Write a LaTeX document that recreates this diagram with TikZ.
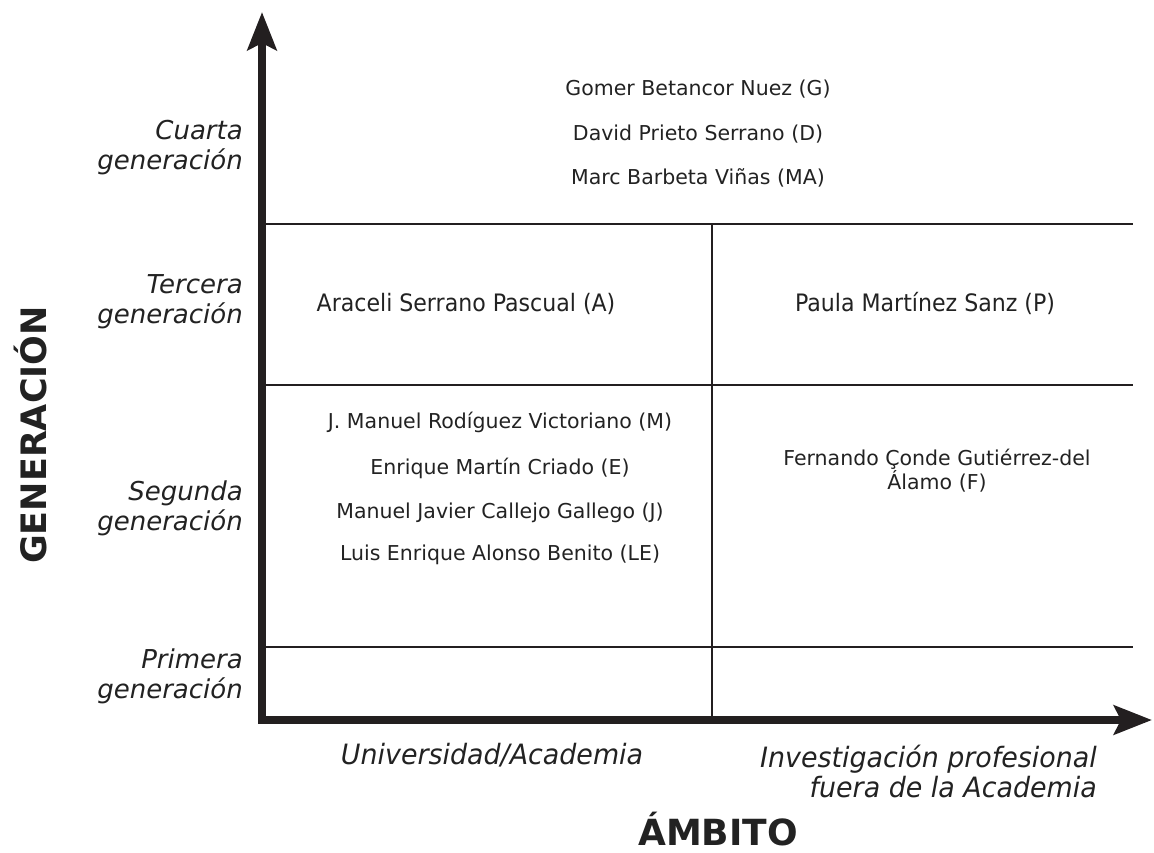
\documentclass[tikz,border=0pt]{standalone}
\usepackage{fontspec}
\setmainfont{DejaVu Sans}[ItalicFont={DejaVu Sans Oblique},BoldFont={DejaVu Sans Bold}]
\newfontfamily\condfont{DejaVu Sans}[FakeStretch=0.92,ItalicFont={DejaVu Sans Oblique},BoldFont={DejaVu Sans Bold}]
\newfontfamily\semicondfont{DejaVu Sans}[FakeStretch=0.96,ItalicFont={DejaVu Sans Oblique},BoldFont={DejaVu Sans Bold}]
\usetikzlibrary{arrows.meta}
\definecolor{ink}{HTML}{231F20}
\definecolor{txt}{HTML}{222222}
\begin{document}
\begin{tikzpicture}[x=1pt,y=-1pt,
  axis/.style={line width=8pt,draw=ink,line join=miter,
    {Stealth[length=38pt,width=29pt,inset=7pt]}-{Stealth[length=38pt,width=29pt,inset=7pt]}},
  grid/.style={line width=2pt,draw=ink},
  person/.style={inner sep=0pt,text=txt,font=\fontsize{20.5}{20.5}\selectfont,anchor=base},
  cperson/.style={inner sep=0pt,text=txt,font=\condfont\fontsize{24}{24}\selectfont,anchor=base},
  genlab/.style={inner sep=0pt,text=txt,align=right,anchor=east,font=\itshape\fontsize{26}{30}\selectfont},
  ambitolab/.style={inner sep=0pt,text=txt,font=\semicondfont\itshape\fontsize{28}{30}\selectfont},
  title/.style={inner sep=0pt,text=txt,font=\bfseries\fontsize{35}{35}\selectfont}]
\useasboundingbox (0,0) rectangle (1154,852);
% axes
\coordinate (O) at (262,720);
\coordinate (ytip) at (262,12);
\coordinate (xtip) at (1152,720);
\coordinate (h1l) at (262,224); \coordinate (h1r) at (1133,224);
\coordinate (h2l) at (262,385); \coordinate (h2r) at (1133,385);
\coordinate (h3l) at (262,647); \coordinate (h3r) at (1133,647);
\coordinate (vt) at (712,224); \coordinate (vb) at (712,720);
\draw[grid] (h1l) -- (h1r);
\draw[grid] (h2l) -- (h2r);
\draw[grid] (h3l) -- (h3r);
\draw[grid] (vt) -- (vb);
\draw[axis] (ytip) -- (O) -- (xtip);
% generation labels
\node[genlab] (cuarta) at (243,148) {Cuarta\\generación};
\node[genlab] (tercera) at (243,302) {Tercera\\generación};
\node[genlab] (segunda) at (243,508) {Segunda\\generación};
\node[genlab] (primera) at (243,676) {Primera\\generación};
% ambito labels
\node[ambitolab,anchor=center] (univ) at (492,755) {Universidad/Academia};
\node[ambitolab,align=right,anchor=east] (invest) at (1097,771) {Investigación profesional\\fuera de la Academia};
% titles
\node[title,rotate=90] (gen) at (31,435) {GENERACIÓN};
\node[title,anchor=base,font=\bfseries\fontsize{36}{36}\selectfont] (amb) at (718,845) {ÁMBITO};
% people
\node[person] (G) at (698,95) {Gomer Betancor Nuez (G)};
\node[person] (D) at (698,140) {David Prieto Serrano (D)};
\node[person] (MA) at (698,184) {Marc Barbeta Viñas (MA)};
\node[cperson] (A) at (466,311) {Araceli Serrano Pascual (A)};
\node[cperson] (P) at (925,311) {Paula Martínez Sanz (P)};
\node[person] (M) at (500,428) {J. Manuel Rodíguez Victoriano (M)};
\node[person] (E) at (500,474) {Enrique Martín Criado (E)};
\node[person] (J) at (500,518) {Manuel Javier Callejo Gallego (J)};
\node[person] (LE) at (500,560) {Luis Enrique Alonso Benito (LE)};
\node[person,align=center,font=\fontsize{20.5}{18}\selectfont] (F) at (937,489) {Fernando Çonde Gutiérrez-del\\Álamo (F)};
\end{tikzpicture}
\end{document}
